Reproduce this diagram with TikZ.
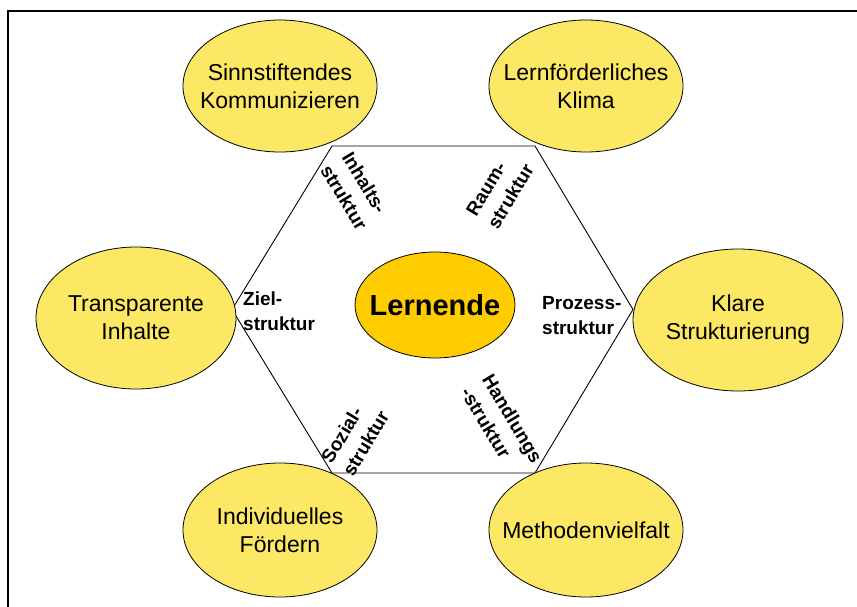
\documentclass[tikz,border=0pt]{standalone}
\usepackage{fontspec}
\setmainfont{Liberation Sans}
\usetikzlibrary{shapes.geometric}
\definecolor{outerfill}{RGB}{252,232,100}
\definecolor{centerfill}{RGB}{255,204,0}
\begin{document}
\begin{tikzpicture}[x=1pt,y=-1pt,
  outer/.style={ellipse, draw=black, line width=0.8pt, fill=outerfill, inner sep=0pt},
  outertext/.style={align=center, inner sep=0pt, font=\fontsize{23}{28}\selectfont},
  hexlabel/.style={font=\fontsize{19}{25}\selectfont\bfseries, align=left, inner sep=0pt},
  hexedge/.style={draw=black, line width=0.9pt},
  frameline/.style={draw=black, line width=2pt}]
\useasboundingbox (0,0) rectangle (857,606);
\fill[white] (0,0) rectangle (857,606);
\coordinate (fa) at (858,10.5);
\coordinate (fb) at (8,10.5);
\coordinate (fc) at (8,607);
\draw[frameline] (fa) -- (fb) -- (fc);
% hexagon
\coordinate (h1) at (332,146);
\coordinate (h2) at (535,146);
\coordinate (h3) at (633,309.5);
\coordinate (h4) at (535,473);
\coordinate (h5) at (332,473);
\coordinate (h6) at (232,309.5);
\draw[hexedge] (h1) -- (h2) -- (h3) -- (h4) -- (h5) -- (h6) -- cycle;
% outer ellipses
\node[outer, minimum width=194pt, minimum height=132pt] (sinn) at (280,86) {};
\node[outertext] (sinnt) at (sinn.center) {Sinnstiftendes\\Kommunizieren};
\node[outer, minimum width=194pt, minimum height=132pt] (lern) at (586,86) {};
\node[outertext] (lernt) at (lern.center) {Lernförderliches\\Klima};
\node[outer, minimum width=200pt, minimum height=142pt] (trans) at (136,318) {};
\node[outertext] (transt) at (trans.center) {Transparente\\Inhalte};
\node[outer, minimum width=210pt, minimum height=142pt] (klar) at (738,320) {};
\node[outertext] (klart) at (klar.center) {Klare\\Strukturierung};
\node[outer, minimum width=194pt, minimum height=134pt] (indiv) at (280,530) {};
\node[outertext] (indivt) at (indiv.center) {Individuelles\\Fördern};
\node[outer, minimum width=194pt, minimum height=134pt] (meth) at (586,530) {};
\node[outertext] (metht) at (meth.center) {Methodenvielfalt};
% center
\node[ellipse, draw=black, line width=0.8pt, fill=centerfill, inner sep=0pt, minimum width=160pt, minimum height=106pt] (mitte) at (435,305) {};
\node[inner sep=0pt, font=\fontsize{29}{34}\selectfont\bfseries] (mittet) at (mitte.center) {Lernende};
% labels
\node[hexlabel, rotate=-59] (inh) at (355,191) {Inhalts-\\struktur};
\node[hexlabel, rotate=59] (raum) at (500,190) {Raum-\\struktur};
\node[hexlabel, anchor=west] (ziel) at (243,311) {Ziel-\\struktur};
\node[hexlabel, anchor=west] (proz) at (542,316) {Prozess-\\struktur};
\node[hexlabel, rotate=59] (soz) at (355,437) {Sozial-\\struktur};
\node[hexlabel, rotate=-59] (hand) at (502,425) {Handlungs\\-struktur};
\end{tikzpicture}
\end{document}
